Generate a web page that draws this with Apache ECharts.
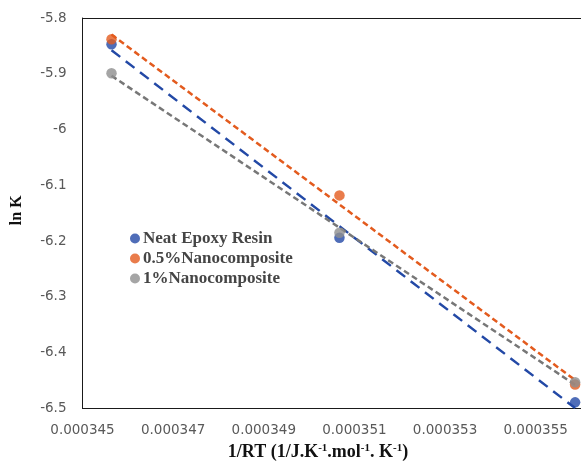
<!DOCTYPE html>
<html>
<head>
<meta charset="utf-8">
<script src="https://cdn.jsdelivr.net/npm/echarts@6/dist/echarts.min.js"></script>
<style>
  html, body { margin: 0; padding: 0; background: #fff; }
  #chart { width: 581px; height: 462px; }
</style>
</head>
<body>
<div id="chart"></div>
<script>
// 1/RT values (1/J.K-1.mol-1) for the three test temperatures
const invRT = [0.00034564, 0.00035067, 0.00035587];

// ln K for each material
const neatEpoxy = [-5.847, -6.194, -6.489];
const nano05 = [-5.838, -6.118, -6.457];
const nano1 = [-5.899, -6.185, -6.453];

const seriesNames = ['Neat Epoxy Resin', '0.5%Nanocomposite', '1%Nanocomposite'];
const seriesColors = ['#2349a6', '#e35b1e', '#8f8f8f'];
const lineColors = ['#2349a6', '#e35b1e', '#777777'];
const lineDashes = [[11, 7], [6, 3.5], [6, 3.5]];

// y-axis tick range
const yMin = -6.5, yMax = -5.8, yStep = 0.1;
// x-axis range; labels shown every second microunit
const xMin = 0.000345, xMax = 0.000356, xStep = 0.000001;

// least-squares linear fit, evaluated at the first and last x
function trend(xs, ys) {
  const n = xs.length;
  const mx = xs.reduce((a, b) => a + b, 0) / n;
  const my = ys.reduce((a, b) => a + b, 0) / n;
  let sxy = 0, sxx = 0;
  for (let i = 0; i < n; i++) {
    sxy += (xs[i] - mx) * (ys[i] - my);
    sxx += (xs[i] - mx) * (xs[i] - mx);
  }
  const k = sxy / sxx;
  const x0 = Math.min(...xs), x1 = Math.max(...xs);
  return [[x0, my + k * (x0 - mx)], [x1, my + k * (x1 - mx)]];
}

const allY = [neatEpoxy, nano05, nano1];
const series = [];
allY.forEach((ys, i) => {
  series.push({
    name: seriesNames[i] + ' trend',
    type: 'line',
    data: trend(invRT, ys),
    symbol: 'none',
    silent: true,
    z: 2,
    lineStyle: { color: lineColors[i], width: 2.5, type: lineDashes[i] }
  });
});
// markers drawn after the fits; orange on top of blue like the first point
[0, 2, 1].forEach(i => {
  series.push({
    name: seriesNames[i],
    type: 'scatter',
    data: invRT.map((x, j) => [x, allY[i][j]]),
    symbol: 'circle',
    symbolSize: 10.5,
    z: 3 + i,
    itemStyle: { color: seriesColors[i] }
  });
});

const axisLineStyle = { show: true, lineStyle: { color: '#1a1a1a', width: 1 } };

const chart = echarts.init(document.getElementById('chart'), null, { renderer: 'canvas' });
chart.setOption({
  animation: false,
  backgroundColor: '#ffffff',
  color: seriesColors,
  grid: { left: 82.5, right: -2.5, top: 18, bottom: 53.5 },
  title: {
    left: 313, top: 438, textAlign: 'center',
    text: '{b|1/RT (1/J.K}{s|-1}{b|.mol}{s|-1}{b|. K}{s|-1}{b|)}',
    textStyle: {
      rich: {
        b: { fontFamily: 'Liberation Serif', fontWeight: 'bold', fontSize: 18, color: '#111' },
        s: { fontFamily: 'Liberation Serif', fontWeight: 'bold', fontSize: 11, color: '#111', verticalAlign: 'top', padding: [0, 0, 8, 0] }
      }
    }
  },
  legend: {
    data: seriesNames,
    orient: 'vertical',
    left: 125, top: 225,
    icon: 'circle',
    itemWidth: 10, itemHeight: 10,
    itemGap: 3,
    textStyle: {
      fontFamily: 'Liberation Serif', fontWeight: 'bold', fontSize: 17,
      color: '#454545', lineHeight: 17, padding: [0, 0, 0, -2]
    }
  },
  xAxis: [{
    type: 'value',
    min: xMin, max: xMax, interval: xStep,
    axisLine: axisLineStyle,
    axisTick: { show: false },
    splitLine: { show: false },
    axisLabel: {
      margin: 15,
      fontFamily: 'DejaVu Sans', fontSize: 13.5, color: '#595959',
      formatter: v => (Math.round(v * 1e6) % 2 === 1 ? v.toFixed(6) : ''),
      showMaxLabel: false
    }
  }, {
    // top frame line only
    type: 'value', position: 'top',
    min: xMin, max: xMax,
    axisLine: axisLineStyle,
    axisTick: { show: false }, axisLabel: { show: false }, splitLine: { show: false }
  }],
  yAxis: {
    type: 'value',
    min: yMin, max: yMax, interval: yStep,
    name: 'ln K',
    nameLocation: 'middle',
    nameGap: 58,
    nameRotate: 90,
    nameTextStyle: {
      fontFamily: 'Liberation Serif', fontWeight: 'bold', fontSize: 16, color: '#111',
      padding: [0, 0, 0, 6]
    },
    axisLine: axisLineStyle,
    axisTick: { show: false },
    splitLine: { show: false },
    axisLabel: {
      margin: 16,
      fontFamily: 'DejaVu Sans', fontSize: 13.5, color: '#595959',
      formatter: v => String(Math.round(v * 10) / 10)
    }
  },
  series: series
});
</script>
</body>
</html>
